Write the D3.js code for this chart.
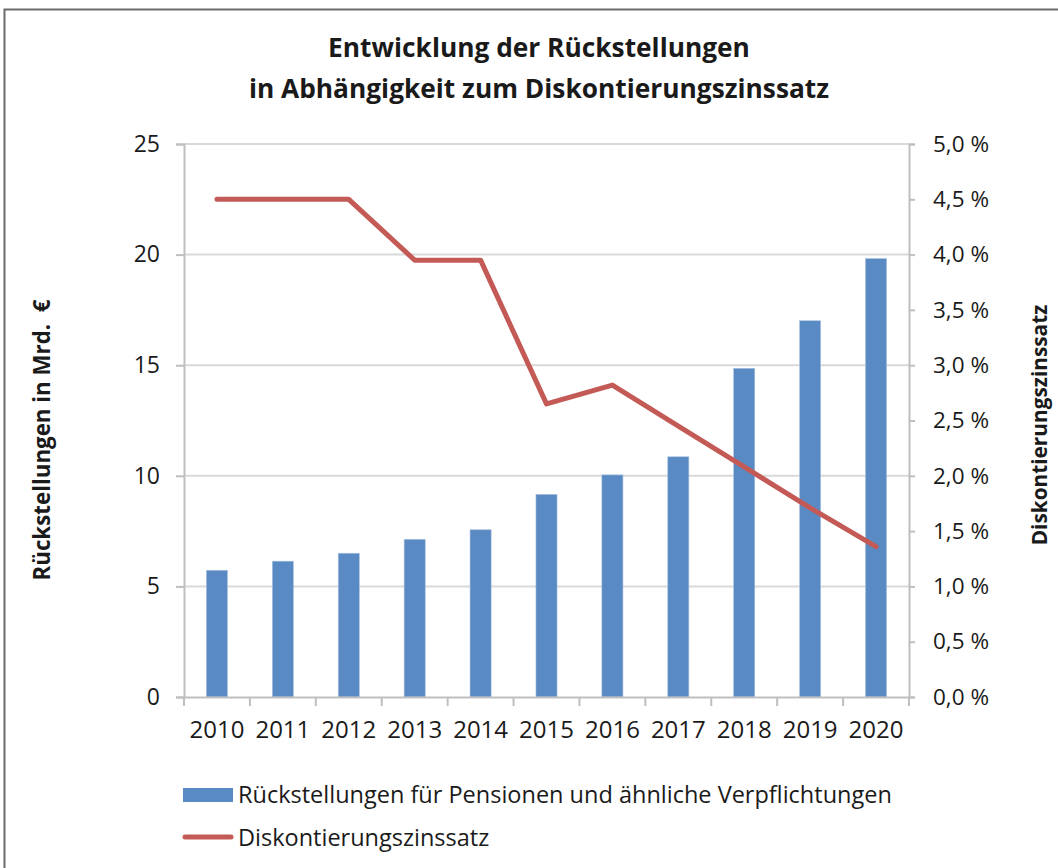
<!DOCTYPE html>
<html>
<head>
<meta charset="utf-8">
<script src="https://cdn.jsdelivr.net/npm/d3@7"></script>
<style>
  body { margin: 0; background: #fff; }
  svg text { font-family: "Open Sans", "Noto Sans", sans-serif; fill: #1a1a1a; }
</style>
</head>
<body>
<div id="chart"></div>
<script>
// chart data
const years = ["2010", "2011", "2012", "2013", "2014", "2015", "2016", "2017", "2018", "2019", "2020"];
const provisions = [5.73, 6.14, 6.5, 7.13, 7.56, 9.16, 10.04, 10.86, 14.86, 17.01, 19.82];
const discountRate = [4.5, 4.5, 4.5, 3.95, 3.95, 2.65, 2.82, 2.45, 2.08, 1.71, 1.36];
const leftTicks = [0, 5, 10, 15, 20, 25];
const rightTicks = [0, 0.5, 1, 1.5, 2, 2.5, 3, 3.5, 4, 4.5, 5];
const titleLines = ["Entwicklung der Rückstellungen", "in Abhängigkeit zum Diskontierungszinssatz"];
const legendLabels = ["Rückstellungen für Pensionen und ähnliche Verpflichtungen", "Diskontierungszinssatz"];

const width = 1058;
const height = 868;
const plot = { left: 184, right: 909, top: 144, bottom: 697 };

const barColor = "#5A8AC3";
const lineColor = "#C45A55";
const gridColor = "#d9d9d9";
const axisColor = "#bfbfbf";

const svg = d3.select("#chart")
    .append("svg")
    .attr("width", width)
    .attr("height", height);

// outer frame
svg.append("rect")
    .attr("x", 4.5).attr("y", 9.5)
    .attr("width", width + 20).attr("height", height + 20)
    .attr("fill", "#fff")
    .attr("stroke", "#6b6b6b")
    .attr("stroke-width", 2);

// scales
const x = d3.scaleBand()
    .domain(years)
    .range([plot.left, plot.right]);

const yLeft = d3.scaleLinear()
    .domain([0, 25])
    .range([plot.bottom, plot.top]);

const yRight = d3.scaleLinear()
    .domain([0, 5])
    .range([plot.bottom, plot.top]);

// gridlines
svg.append("g")
    .selectAll("line")
    .data(leftTicks.filter(d => d > 0))
    .enter().append("line")
    .attr("x1", plot.left).attr("x2", plot.right)
    .attr("y1", d => yLeft(d)).attr("y2", d => yLeft(d))
    .attr("stroke", gridColor)
    .attr("stroke-width", 2);

// bars
const barWidth = x.bandwidth() * 0.32;
svg.append("g")
    .selectAll("rect")
    .data(years)
    .enter().append("rect")
    .attr("x", (d) => x(d) + (x.bandwidth() - barWidth) / 2)
    .attr("y", (d, i) => yLeft(provisions[i]))
    .attr("width", barWidth)
    .attr("height", (d, i) => yLeft(0) - yLeft(provisions[i]))
    .attr("fill", barColor)
    .attr("stroke", "#a9c1df")
    .attr("stroke-width", 0.6);

// left axis
const leftAxis = svg.append("g")
    .attr("transform", `translate(${plot.left},0)`)
    .call(d3.axisLeft(yLeft).tickValues(leftTicks).tickSize(8).tickPadding(16).tickFormat(d3.format("d")));
leftAxis.select(".domain").attr("stroke", axisColor).attr("stroke-width", 2);
leftAxis.selectAll(".tick line").attr("stroke", axisColor).attr("stroke-width", 2);
leftAxis.selectAll(".tick text")
    .attr("font-size", 23)
    .attr("font-family", "Open Sans")
    .attr("fill", "#1a1a1a");

// right axis
const fmtPct = d => d3.format(".1f")(d).replace(".", ",") + " %";
const rightAxis = svg.append("g")
    .attr("transform", `translate(${plot.right},0)`)
    .call(d3.axisRight(yRight).tickValues(rightTicks).tickSize(6).tickPadding(18).tickFormat(fmtPct));
rightAxis.select(".domain").attr("stroke", axisColor).attr("stroke-width", 2);
rightAxis.selectAll(".tick line").attr("stroke", axisColor).attr("stroke-width", 2);
rightAxis.selectAll(".tick text")
    .attr("font-size", 22.5)
    .attr("font-family", "Open Sans")
    .attr("fill", "#1a1a1a");

// bottom axis
const bottomAxis = svg.append("g")
    .attr("transform", `translate(0,${plot.bottom})`)
    .call(d3.axisBottom(x).tickSize(0).tickPadding(24));
bottomAxis.select(".domain").attr("stroke", axisColor).attr("stroke-width", 2);
bottomAxis.selectAll(".tick text")
    .attr("font-size", 24)
    .attr("font-family", "Open Sans")
    .attr("fill", "#1a1a1a");
// category boundary ticks
bottomAxis.append("g")
    .selectAll("line")
    .data(years.concat(["end"]))
    .enter().append("line")
    .attr("x1", (d, i) => i < years.length ? x(d) : plot.right)
    .attr("x2", (d, i) => i < years.length ? x(d) : plot.right)
    .attr("y1", 0).attr("y2", 9)
    .attr("stroke", axisColor)
    .attr("stroke-width", 2);

// discount rate line
const line = d3.line()
    .x((d, i) => x(years[i]) + x.bandwidth() / 2)
    .y(d => yRight(d));

svg.append("path")
    .datum(discountRate)
    .attr("d", line)
    .attr("fill", "none")
    .attr("stroke", lineColor)
    .attr("stroke-width", 5)
    .attr("stroke-linecap", "round")
    .attr("stroke-linejoin", "round");

// title
svg.append("text")
    .attr("x", 539)
    .attr("y", 57)
    .attr("text-anchor", "middle")
    .attr("font-size", 26.3)
    .attr("font-weight", "bold")
    .selectAll("tspan")
    .data(titleLines)
    .enter().append("tspan")
    .attr("x", 539)
    .attr("dy", (d, i) => i === 0 ? 0 : 41)
    .text(d => d);

// axis titles
svg.append("text")
    .attr("transform", "translate(50,440) rotate(-90)")
    .attr("text-anchor", "middle")
    .attr("font-size", 22.3)
    .attr("font-weight", "bold")
    .text("Rückstellungen in Mrd.\u00a0 €");

svg.append("text")
    .attr("transform", "translate(1047,425) rotate(-90)")
    .attr("text-anchor", "middle")
    .attr("font-size", 20.8)
    .attr("font-weight", "bold")
    .text("Diskontierungszinssatz");

// legend
const legend = svg.append("g");
legend.append("rect")
    .attr("x", 183).attr("y", 788)
    .attr("width", 50).attr("height", 14)
    .attr("fill", barColor);
legend.append("line")
    .attr("x1", 185).attr("x2", 231)
    .attr("y1", 837).attr("y2", 837)
    .attr("stroke", lineColor)
    .attr("stroke-width", 5)
    .attr("stroke-linecap", "round");
legend.selectAll("text.lbl")
    .data(legendLabels)
    .enter().append("text")
    .attr("class", "lbl")
    .attr("x", 238)
    .attr("y", (d, i) => 803 + i * 43)
    .attr("font-size", 23.5)
    .text(d => d);
</script>
</body>
</html>
